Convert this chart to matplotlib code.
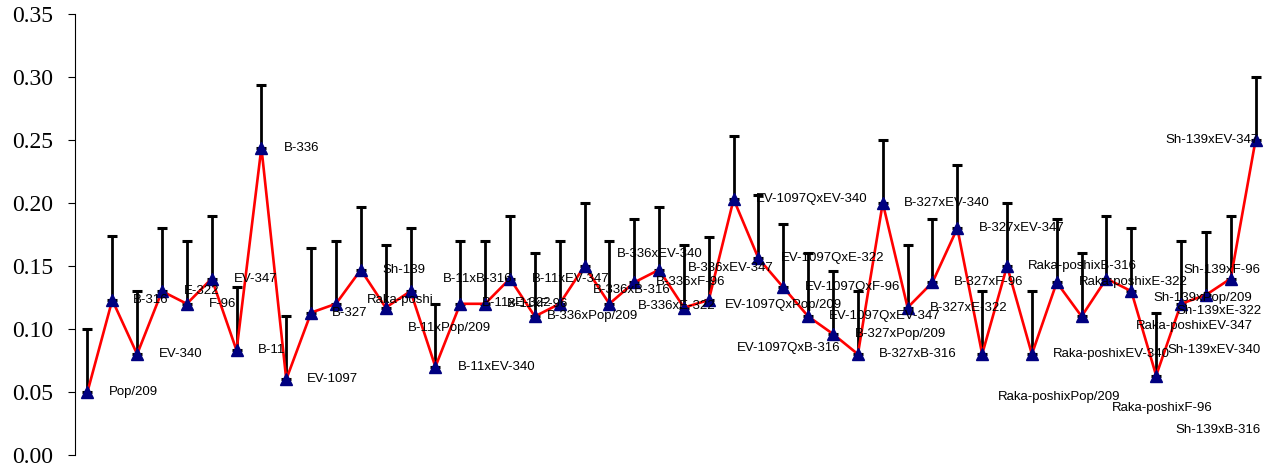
import matplotlib
matplotlib.use("Agg")
import matplotlib.pyplot as plt

# ---- data ----
genotypes = [
    "Pop/209", "B-316", "EV-340", "E-322", "F-96", "EV-347",
    "B-11", "B-336", "EV-1097", "B-327", "Raka-poshi", "Sh-139",
    "B-11xPop/209", "B-11xB-316", "B-11xEV-340", "B-11xE-322", "B-11xF-96", "B-11xEV-347",
    "B-336xPop/209", "B-336xB-316", "B-336xEV-340", "B-336xE-322", "B-336xF-96", "B-336xEV-347",
    "EV-1097QxPop/209", "EV-1097QxB-316", "EV-1097QxEV-340", "EV-1097QxE-322", "EV-1097QxF-96", "EV-1097QxEV-347",
    "B-327xPop/209", "B-327xB-316", "B-327xEV-340", "B-327xE-322", "B-327xF-96", "B-327xEV-347",
    "Raka-poshixPop/209", "Raka-poshixB-316", "Raka-poshixEV-340", "Raka-poshixE-322", "Raka-poshixF-96", "Raka-poshixEV-347",
    "Sh-139xPop/209", "Sh-139xB-316", "Sh-139xEV-340", "Sh-139xE-322", "Sh-139xF-96", "Sh-139xEV-347",
]
values = [
    0.050, 0.123, 0.080, 0.130, 0.120, 0.140,
    0.083, 0.244, 0.060, 0.113, 0.120, 0.147,
    0.117, 0.130, 0.070, 0.120, 0.120, 0.140,
    0.110, 0.120, 0.150, 0.120, 0.137, 0.147,
    0.117, 0.123, 0.203, 0.156, 0.133, 0.110,
    0.096, 0.080, 0.200, 0.117, 0.137, 0.180,
    0.080, 0.150, 0.080, 0.137, 0.110, 0.140,
    0.130, 0.063, 0.120, 0.127, 0.140, 0.250,
]
errors = [
    0.050, 0.051, 0.050, 0.050, 0.050, 0.050,
    0.050, 0.050, 0.050, 0.051, 0.050, 0.050,
    0.050, 0.050, 0.050, 0.050, 0.050, 0.050,
    0.050, 0.050, 0.050, 0.050, 0.050, 0.050,
    0.050, 0.050, 0.050, 0.050, 0.050, 0.050,
    0.050, 0.050, 0.050, 0.050, 0.050, 0.050,
    0.050, 0.050, 0.050, 0.050, 0.050, 0.050,
    0.050, 0.050, 0.050, 0.050, 0.050, 0.050,
]
yticks = [0.00, 0.05, 0.10, 0.15, 0.20, 0.25, 0.30, 0.35]

# label offsets (pixels, right / up) from each marker
label_offsets = [
    (21, 0), (21, 0), (22, 0), (22, 0), (22, 0), (22, 0),
    (21, 0), (22, 0), (21, 0), (21, 0), (31, 4), (22, 0),
    (22, -20), (32, 12), (22, 0), (22, 1), (22, 0), (22, 0),
    (12, 0), (33, 14), (32, 12), (29, -2), (22, 0), (29, 2),
    (41, 3), (28, -48), (22, 0), (22, 0), (22, 0), (21, 0),
    (22, 0), (21, 0), (21, 0), (22, 0), (21, 0), (22, 0),
    (16, -43), (21, 0), (21, 0), (22, 0), (30, -92), (29, -47),
    (22, -7), (19, -54), (-14, -46), (-29, -16), (-47, 9), (-90, 0),
]

W, H = 1277, 471
fig = plt.figure(figsize=(W / 100, H / 100), dpi=100)
ax = fig.add_axes([75 / W, 16 / H, (1268 - 75) / W, 441 / H])

x = list(range(len(values)))
lower = [0.0] * len(values)

ax.errorbar(x, values, yerr=[lower, errors], fmt="none", ecolor="black",
            elinewidth=2.0, capsize=3.3, capthick=2.2, zorder=1)
ax.plot(x, values, color="#FF0000", linewidth=1.9, zorder=2)
ax.plot(x, values, linestyle="none", marker="^", markersize=9,
        markerfacecolor="#000080", markeredgecolor="#000080", zorder=3)

for xi, yi, name, (dx, dy) in zip(x, values, genotypes, label_offsets):
    ax.annotate(name, xy=(xi, yi), xytext=(dx, dy), textcoords="offset pixels",
                ha="left", va="center", fontsize=9.5, family="Liberation Sans",
                color="black", annotation_clip=False, zorder=4)

ax.set_xlim(-0.5, len(values) - 0.5)
ax.set_ylim(0, 0.35)
ax.set_yticks(yticks)
ax.set_yticklabels([f"{t:.2f}" for t in yticks], family="Liberation Serif", fontsize=17)
ax.tick_params(axis="y", direction="out", length=5, width=0.8, pad=11, colors="black")
ax.set_xticks([])
for s in ("top", "right", "bottom"):
    ax.spines[s].set_visible(False)
ax.spines["left"].set_linewidth(0.8)

fig.savefig("out.png", dpi=100)
